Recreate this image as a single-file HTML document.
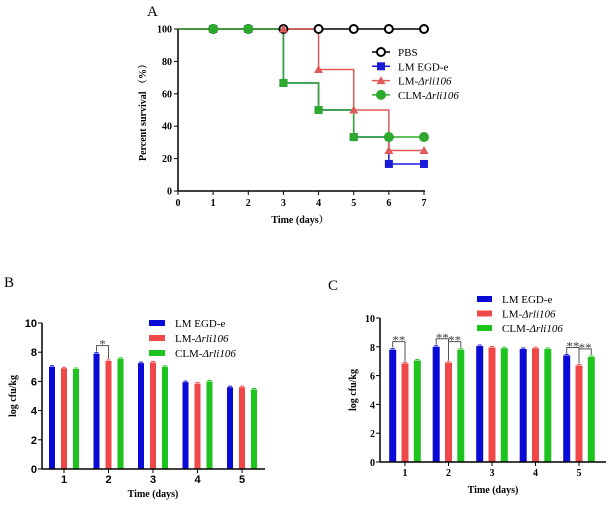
<!DOCTYPE html>
<html><head><meta charset="utf-8"><style>
body{margin:0;background:#fff;width:608px;height:508px;overflow:hidden}
svg{display:block;font-family:"Liberation Serif","Noto Serif CJK SC",serif}
.t{font-weight:bold;font-size:10px}
</style></head><body>
<svg id="s" width="608" height="508">
<text x="147" y="16" font-size="15">A</text>
<text x="4" y="287" font-size="15">B</text>
<text x="328" y="290" font-size="15">C</text>
</svg>
<script>
// ---- Panel A data ----
const daysA=[0,1,2,3,4,5,6,7];
const pbs=[100,100,100,100,100,100,100,100];
const egd=[100,100,100,66.7,50,33.3,16.7,16.7];
const lmd=[100,100,100,100,75,50,25,25];
const clm=[100,100,100,66.7,50,33.3,33.3,33.3];
const yTicksA=[0,20,40,60,80,100];
// ---- Panel B data ----
const catsB=["1","2","3","4","5"];
const bEgd=[7.0,7.9,7.25,5.95,5.6];
const bLmd=[6.9,7.4,7.3,5.85,5.6];
const bClm=[6.85,7.55,7.0,6.0,5.45];
// ---- Panel C data ----
const catsC=["1","2","3","4","5"];
const cEgd=[7.8,8.0,8.05,7.85,7.4];
const cLmd=[6.85,6.9,7.95,7.9,6.7];
const cClm=[7.05,7.8,7.9,7.85,7.3];
const yTicksBC=[0,2,4,6,8,10];

const NS="http://www.w3.org/2000/svg";const S=document.getElementById('s');
function el(t,a,p){const e=document.createElementNS(NS,t);for(const k in a)e.setAttribute(k,a[k]);(p||S).appendChild(e);return e;}
function tx(x,y,s,a,p){const e=el('text',Object.assign({x:x,y:y},a||{}),p);e.textContent=s;return e;}

// Panel A
const ax=d=>178+d*(424-178)/7, ay=v=>191-v*(191-29)/100;
const gA=el('g',{});


el('line',{x1:178,y1:29,x2:178,y2:191,stroke:'#000','stroke-width':1.5},gA);
el('line',{x1:178,y1:191,x2:425,y2:191,stroke:'#000','stroke-width':1.5},gA);
yTicksA.forEach(v=>{el('line',{x1:174,x2:178,y1:ay(v),y2:ay(v),stroke:'#000'},gA);const t=tx(172,ay(v)+3.5,v,{'text-anchor':'end',class:'t'},gA);});
daysA.forEach(d=>{el('line',{x1:ax(d),x2:ax(d),y1:191,y2:195,stroke:'#000'},gA);const t=tx(ax(d),206,d,{'text-anchor':'middle',class:'t'},gA);});
const yt=tx(0,0,'Percent survival （%）',{class:'t',transform:'translate(146,110) rotate(-90)','text-anchor':'middle'},gA);

const xt=tx(300,223,'Time (days）',{class:'t','text-anchor':'middle'},gA);

function step(vals,col){let d='M'+ax(0)+','+ay(vals[0]);for(let i=1;i<vals.length;i++){d+=' H'+ax(i)+' V'+ay(vals[i]);}const p=el('path',{d:d,fill:'none',stroke:col,'stroke-width':1.5},gA);return p;}
function mark(type,x,y,col){if(type==='o')return el('circle',{cx:x,cy:y,r:4,fill:'#fff',stroke:col,'stroke-width':2},gA);if(type==='c')return el('circle',{cx:x,cy:y,r:5,fill:col},gA);if(type==='s')return el('rect',{x:x-4,y:y-4,width:8,height:8,fill:col},gA);return el('path',{d:`M${x},${y-4.5}L${x+4.5},${y+3.5}L${x-4.5},${y+3.5}Z`,fill:col},gA);}
const series=[[pbs,'#000','o','pbs'],[egd,'#1a1adb','s','lm-egd-e'],[lmd,'#e05a5a','t','lm-arli106'],[clm,'#2daa2d','c','clm-arli106']];
series.forEach(([v,c,m,n])=>{const p=step(v,c);});
series.forEach(([v,c,m,n])=>{v.forEach((val,i)=>{if(i===0)return;const k=(n==='clm-arli106'&&i>=3&&i<=5)?'s':m;const e=mark(k,ax(i),ay(val),c);});});
const legA=['PBS','LM EGD-e','LM-Δrli106','CLM-Δrli106'];
series.forEach(([v,c,m,n],i)=>{const y=52+i*14.3;el('line',{x1:372,x2:390,y1:y,y2:y,stroke:c,'stroke-width':1.5},gA);const mk=mark(m,381,y,c);
 const t=tx(398,y+4,'',{'font-size':'11'},gA);
 if(i<2)t.textContent=legA[i];else{const a=el('tspan',{},t);a.textContent=i===2?'LM-':'CLM-';const b=el('tspan',{'font-style':'italic'},t);b.textContent='Δrli106';}});

// bar charts
function barChart(o){
 const g=el('g',{});
 
 
 const y=v=>o.y0-v*(o.y0-o.y10)/10;
 const cols=['#0a0ad6','#f04848','#1ec41e'];const data=[o.a,o.b,o.c];
 data.forEach((arr,si)=>arr.forEach((v,i)=>{const cx=o.x1+i*o.step+(si-1)*o.gap;const r=el('rect',{x:cx-o.bw/2,y:y(v),width:o.bw,height:o.y0-y(v),fill:cols[si]},g);
  el('line',{x1:cx-2,x2:cx+2,y1:y(v)-1,y2:y(v)-1,stroke:cols[si],'stroke-width':1},g);}));
 el('line',{x1:o.ax,x2:o.ax,y1:o.y10,y2:o.y0,stroke:'#000','stroke-width':1.5},g);
 el('line',{x1:o.ax,x2:o.xend,y1:o.y0,y2:o.y0,stroke:'#000','stroke-width':1.5},g);
 yTicksBC.forEach(v=>{el('line',{x1:o.ax-4,x2:o.ax,y1:y(v),y2:y(v),stroke:'#000'},g);const t=tx(o.ax-5,y(v)+4,v,{'text-anchor':'end','font-family':o.sans?'Liberation Sans,sans-serif':'','font-weight':'bold','font-size':o.sans?'11':'10'},g);});
 o.cats.forEach((c,i)=>{const x=o.x1+i*o.step;el('line',{x1:x,x2:x,y1:o.y0,y2:o.y0+4,stroke:'#000'},g);const t=tx(x,o.y0+14,c,{'text-anchor':'middle','font-family':o.sans?'Liberation Sans,sans-serif':'','font-weight':'bold','font-size':o.sans?'11':'10'},g);});
 const xt=tx(o.xtx,o.xty,'Time (days)',{'text-anchor':'middle',class:'t'},g);
 const ytt=tx(0,0,'log cfu/kg',{class:'t','text-anchor':'middle',transform:`translate(${o.ytx},${(o.y0+o.y10)/2}) rotate(-90)`},g);
 ['LM EGD-e','LM-','CLM-'].forEach((s,i)=>{const ly=o.ly+i*o.lstep;const sw=el('rect',{x:o.lx,y:ly-3,width:o.lw,height:6,fill:cols[i]},g);
  const t=tx(o.lx+o.lw+10,ly+4,'',{'font-size':'11'},g);
  const a=el('tspan',{},t);a.textContent=s;if(i>0){const b=el('tspan',{'font-style':'italic'},t);b.textContent='Δrli106';}});
 o.sig.forEach(([i,s1,s2,lbl])=>{const x1=o.x1+i*o.step+(s1-1)*o.gap,x2=o.x1+i*o.step+(s2-1)*o.gap;const top=y(Math.max(data[s1][i],data[s2][i]))-8;
  el('path',{d:`M${x1},${y(data[s1][i])-2}V${top}H${x2}V${y(data[s2][i])-2}`,fill:'none',stroke:'#555','stroke-width':1},g);
  const t=tx((x1+x2)/2,top+3,lbl,{'text-anchor':'middle','font-size':'13',fill:'#444'},g);});
}
barChart({name:'bar-chart-b',a:bEgd,b:bLmd,c:bClm,cats:catsB,x1:64,step:44.5,gap:12,bw:6,y0:469,y10:323,ax:42,xend:265,xtx:153,xty:497,ytx:16,lx:149,ly:323,lstep:15,lw:16,sig:[[1,0,1,'*']],sans:true});
barChart({name:'bar-chart-c',a:cEgd,b:cLmd,c:cClm,cats:catsC,x1:405,step:43.5,gap:12.3,bw:7,y0:462,y10:318,ax:380,xend:606,xtx:493,xty:493,ytx:356,lx:477,ly:299,lstep:14.5,lw:15,sig:[[0,0,1,'**'],[1,0,1,'**'],[1,1,2,'**'],[4,0,1,'**'],[4,1,2,'**']],sans:false});
</script>
</body></html>
